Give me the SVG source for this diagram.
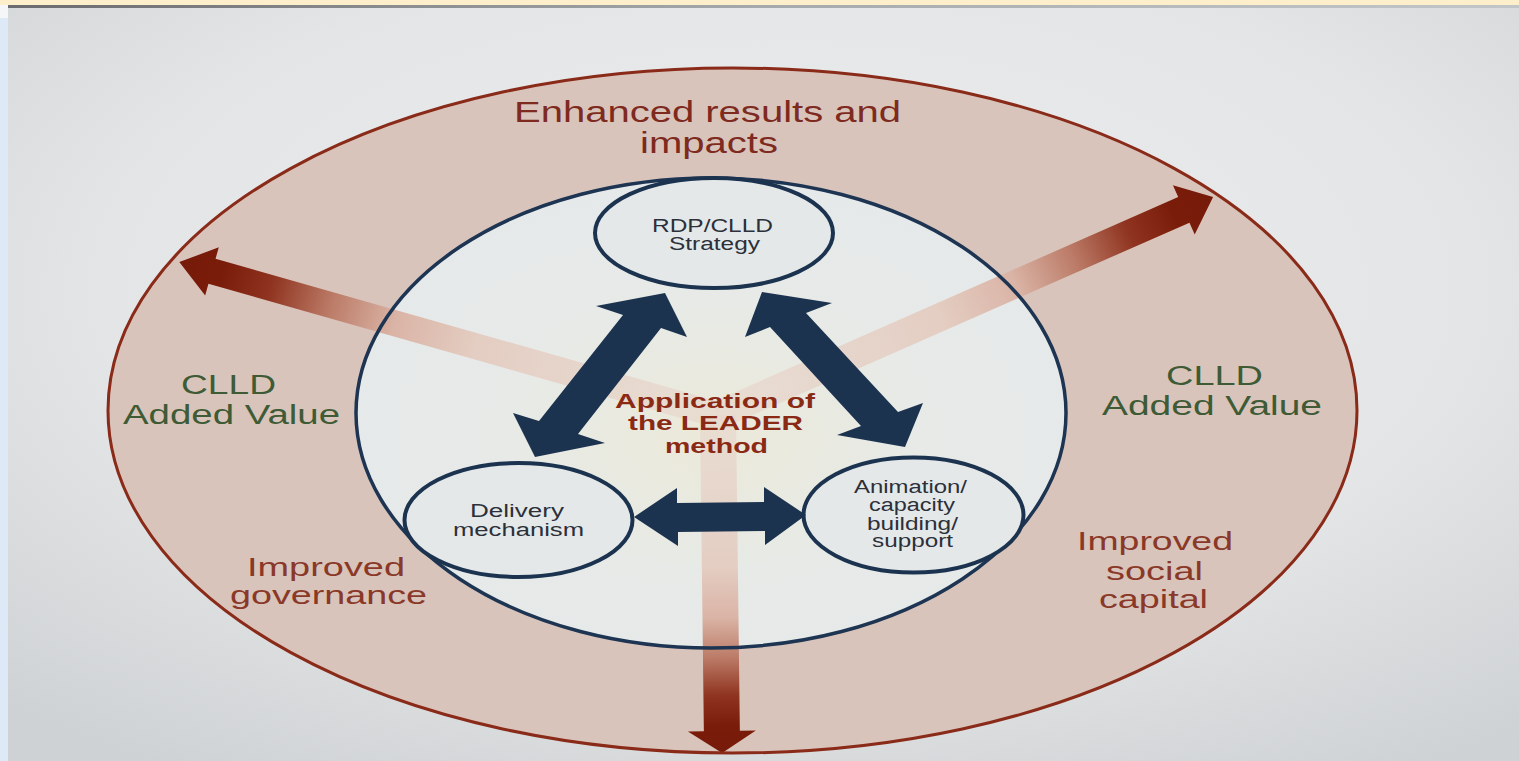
<svg xmlns="http://www.w3.org/2000/svg" width="1519" height="761" viewBox="0 0 1519 761">
<defs>
<radialGradient id="bg" cx="0.52" cy="0.38" r="0.75">
<stop offset="0" stop-color="#ecedee"/>
<stop offset="0.6" stop-color="#e3e5e6"/>
<stop offset="1" stop-color="#cfd2d4"/>
</radialGradient>
<linearGradient id="topShade" x1="0" y1="0" x2="1" y2="0">
<stop offset="0" stop-color="#3a3c3e"/>
<stop offset="0.5" stop-color="#8c8f92"/>
<stop offset="1" stop-color="#b9bcbf"/>
</linearGradient>
<radialGradient id="innerFill" cx="0.5" cy="0.55" r="0.6">
<stop offset="0" stop-color="#ebe9d9"/>
<stop offset="0.5" stop-color="#e7eae7"/>
<stop offset="1" stop-color="#e5e9eb"/>
</radialGradient>
<linearGradient id="spoke" x1="0" y1="0" x2="1" y2="0">
<stop offset="0" stop-color="#e8d6cc" stop-opacity="0.6"/>
<stop offset="0.45" stop-color="#e4cdc2"/>
<stop offset="0.6" stop-color="#dab4a6"/>
<stop offset="0.72" stop-color="#bb7a66"/>
<stop offset="0.83" stop-color="#8f3420"/>
<stop offset="0.92" stop-color="#7a1c0a"/>
<stop offset="1" stop-color="#761a09"/>
</linearGradient>
</defs>
<style>
.navy{fill:#1c3350}
.node{fill:#e5e8e9;stroke:#1c3350;stroke-width:4}
.small{font-family:"Liberation Sans",Arial,sans-serif;font-size:18px;fill:#2b3039}
.title{font-family:"Liberation Sans",Arial,sans-serif;font-size:30px;fill:#7e2a1e}
.green{font-family:"Liberation Sans",Arial,sans-serif;font-size:27px;fill:#3e5b36}
.imp{font-family:"Liberation Sans",Arial,sans-serif;font-size:25px;fill:#8a3828}
.lead{font-family:"Liberation Sans",Arial,sans-serif;font-size:21px;font-weight:bold;fill:#8a2a14}
</style>
<rect x="0" y="0" width="1519" height="761" fill="url(#bg)"/>
<rect x="0" y="0" width="1519" height="5" fill="#fdefcb"/>
<rect x="8" y="5" width="1511" height="3" fill="url(#topShade)" opacity="0.7"/>
<rect x="0" y="5" width="8" height="13" fill="#f4f6f8"/>
<rect x="0" y="18" width="8" height="743" fill="#dde9f6"/>

<g id="outer">
<ellipse cx="732.5" cy="410.5" rx="624.5" ry="342.5" fill="#d9c4bb"/>
</g>
<g id="inner">
<ellipse cx="711" cy="413" rx="355" ry="235" fill="url(#innerFill)"/>
</g>

<g id="connectors">
<g id="spokes">
<polygon fill="url(#spoke)" transform="translate(718,415) rotate(195.85)" points="0,-13 526,-13 526,-25 560,0 526,25 526,13 0,13"/>
<polygon fill="url(#spoke)" transform="translate(718,415) rotate(-23.77)" points="0,-14 509,-14 509,-27 541,0 509,27 509,14 0,14"/>
<polygon fill="url(#spoke)" transform="translate(718,415) rotate(89.3)" points="0,-18 316,-18 316,-34 338,0 316,34 316,18 0,18"/>
</g>
</g>

<ellipse cx="732.5" cy="410.5" rx="624.5" ry="342.5" fill="none" stroke="#8a2a18" stroke-width="3"/>
<ellipse cx="711" cy="413" rx="355" ry="235" fill="none" stroke="#1d3552" stroke-width="3.5"/>

<g id="node-strategy">
<ellipse class="node" cx="714" cy="233" rx="119" ry="55"/>
<text class="small" x="652" y="232" textLength="121" lengthAdjust="spacingAndGlyphs">RDP/CLLD</text>
<text class="small" x="669" y="250" textLength="91" lengthAdjust="spacingAndGlyphs">Strategy</text>
</g>
<g id="node-delivery">
<ellipse class="node" cx="518.5" cy="520" rx="114" ry="57"/>
<text class="small" x="470" y="517" textLength="94" lengthAdjust="spacingAndGlyphs">Delivery</text>
<text class="small" x="453" y="536" textLength="131" lengthAdjust="spacingAndGlyphs">mechanism</text>
</g>
<g id="node-animation">
<ellipse class="node" cx="913.5" cy="515" rx="110" ry="57.5"/>
<text class="small" x="854" y="493" font-size="17" textLength="113" lengthAdjust="spacingAndGlyphs">Animation/</text>
<text class="small" x="869" y="511" font-size="17" textLength="86" lengthAdjust="spacingAndGlyphs">capacity</text>
<text class="small" x="867" y="530" font-size="17" textLength="91" lengthAdjust="spacingAndGlyphs">building/</text>
<text class="small" x="872" y="547" font-size="17" textLength="81" lengthAdjust="spacingAndGlyphs">support</text>
</g>

<g id="navy-arrows">
<polygon class="navy" points="665,293 687,337 661,328 578,434 605,443 535,457 513,413 539,421 623,315 596,306"/>
<polygon class="navy" points="762,292 832,303 806,313 898,412 923,403 905,447 837,435 861,426 770,327 745,337"/>
<polygon class="navy" points="634,517 677,488 677,503 764,502 764,487 806,515 765,545 765,531 678,532 678,546"/>
</g>

<g id="label-title">
<text class="title" x="514" y="122" textLength="387" lengthAdjust="spacingAndGlyphs">Enhanced results and</text>
<text class="title" x="640" y="153" textLength="138" lengthAdjust="spacingAndGlyphs">impacts</text>
</g>
<g id="label-leader">
<text class="lead" x="615" y="408" textLength="200" lengthAdjust="spacingAndGlyphs">Application of</text>
<text class="lead" x="628" y="430" textLength="175" lengthAdjust="spacingAndGlyphs">the LEADER</text>
<text class="lead" x="665" y="453" textLength="103" lengthAdjust="spacingAndGlyphs">method</text>
</g>
<g id="label-clld-left">
<text class="green" x="181" y="394" textLength="95" lengthAdjust="spacingAndGlyphs">CLLD</text>
<text class="green" x="123" y="424" textLength="217" lengthAdjust="spacingAndGlyphs">Added Value</text>
</g>
<g id="label-clld-right">
<text class="green" x="1166" y="385" textLength="97" lengthAdjust="spacingAndGlyphs">CLLD</text>
<text class="green" x="1102" y="415" textLength="220" lengthAdjust="spacingAndGlyphs">Added Value</text>
</g>
<g id="label-governance">
<text class="imp" x="247" y="576" textLength="158" lengthAdjust="spacingAndGlyphs">Improved</text>
<text class="imp" x="230" y="604" textLength="197" lengthAdjust="spacingAndGlyphs">governance</text>
</g>
<g id="label-social">
<text class="imp" x="1077" y="550" textLength="156" lengthAdjust="spacingAndGlyphs">Improved</text>
<text class="imp" x="1106" y="580" textLength="97" lengthAdjust="spacingAndGlyphs">social</text>
<text class="imp" x="1099" y="608" textLength="109" lengthAdjust="spacingAndGlyphs">capital</text>
</g>
</svg>
